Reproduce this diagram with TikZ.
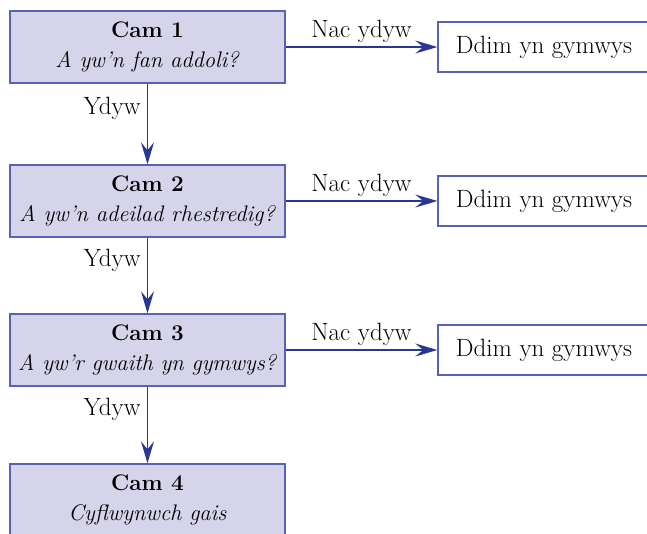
\documentclass[tikz,border=0pt]{standalone}
\usepackage{fontspec}
\usetikzlibrary{arrows.meta}
\definecolor{stepfill}{RGB}{213,212,234}
\definecolor{stepline}{RGB}{88,98,178}
\definecolor{flowblue}{RGB}{40,55,150}
\begin{document}
\begin{tikzpicture}[x=1pt,y=-1pt,font=\fontsize{22.5}{30}\selectfont,
stepbox/.style={draw=stepline,fill=stepfill,line width=1.4pt,minimum width=275pt,minimum height=72pt,align=center,inner sep=0pt},
endbox/.style={draw=stepline,line width=1.4pt,minimum width=212pt,minimum height=50pt,inner sep=0pt,font=\fontsize{25}{30}\selectfont},
answer/.style={font=\fontsize{25}{30}\selectfont},
flow/.style={draw=flowblue,line width=1.2pt,-{Stealth[length=22pt,width=13pt,inset=8pt]}}]
\useasboundingbox (0,0) rectangle (647,533);
\node[stepbox](cam1) at (147.5,47){\textbf{Cam 1}\\\textit{A yw'n fan addoli?}};
\node[stepbox](cam2) at (147.5,201){\textbf{Cam 2}\\\textit{A yw'n adeilad rhestredig?}};
\node[stepbox](cam3) at (147.5,350){\textbf{Cam 3}\\\textit{A yw'r gwaith yn gymwys?}};
\node[stepbox](cam4) at (147.5,500){\textbf{Cam 4}\\\textit{Cyflwynwch gais}};
\node[endbox](na1) at (544,47){Ddim yn gymwys};
\node[endbox](na2) at (544,201){Ddim yn gymwys};
\node[endbox](na3) at (544,350){Ddim yn gymwys};
\draw[flow] (cam1) -- node[answer,pos=0.3,left,xshift=-3pt]{Ydyw}(cam2);
\draw[flow] (cam2) -- node[answer,pos=0.3,left,xshift=-3pt]{Ydyw}(cam3);
\draw[flow] (cam3) -- node[answer,pos=0.3,left,xshift=-3pt]{Ydyw}(cam4);
\draw[flow] (cam1) -- node[answer,above,inner sep=4pt]{Nac ydyw}(na1);
\draw[flow] (cam2) -- node[answer,above,inner sep=4pt]{Nac ydyw}(na2);
\draw[flow] (cam3) -- node[answer,above,inner sep=4pt]{Nac ydyw}(na3);
\end{tikzpicture}
\end{document}
